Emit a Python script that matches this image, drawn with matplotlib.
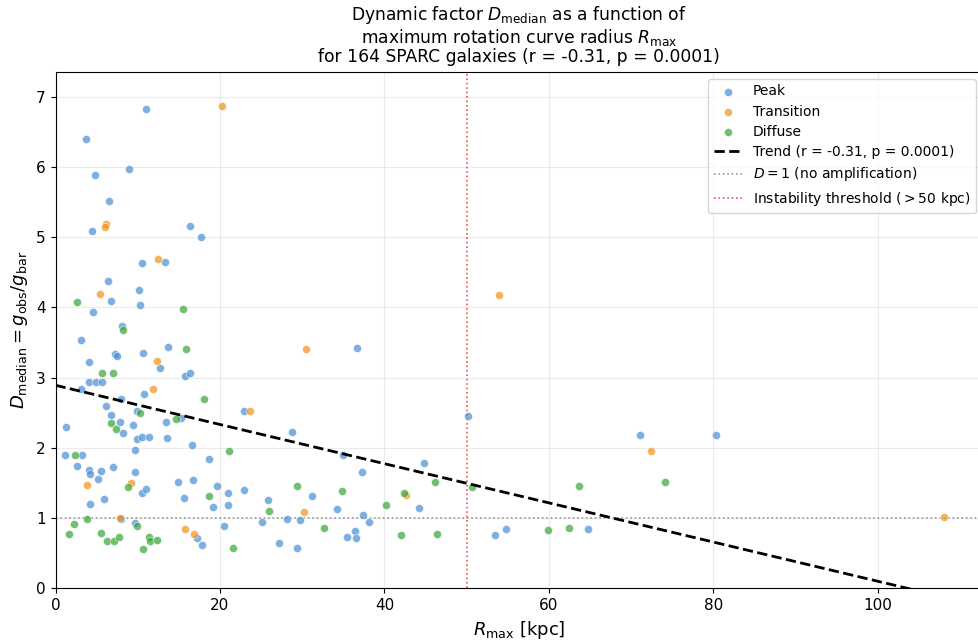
import matplotlib
matplotlib.use("Agg")
import matplotlib.pyplot as plt
import numpy as np

# Datos: R_max [kpc] y D_median por tipo de curva

peak_r = [10.97, 3.67, 4.8, 8.9, 6.47, 4.48, 16.36, 17.7, 10.52, 13.28, 6.35, 10.2,
          6.79, 10.28, 4.52, 8.09, 3.1, 7.2, 7.45, 10.68, 13.65, 12.67, 4.12, 15.75,
          16.3, 4.12, 4.97, 5.66, 3.06, 7.97, 10.73, 6.1, 9.95, 6.75, 7.81, 8.21,
          9.47, 13.44, 15.3, 22.9, 1.24, 9.88, 10.56, 11.41, 13.56, 9.71, 16.64, 18.7,
          1.12, 3.22, 2.58, 4.11, 4.16, 5.57, 5.17, 7.03, 9.63, 14.94, 16.76, 19.6,
          10.52, 11.05, 5.86, 15.63, 21.0, 22.9, 4.23, 19.16, 20.95, 7.91, 9.63, 20.5,
          17.2, 17.82, 36.68, 28.73, 34.9, 44.8, 37.3, 50.2, 31.17, 25.8, 44.26, 34.2,
          37.37, 38.1, 25.1, 28.1, 29.74, 36.4, 35.5, 36.6, 27.2, 29.4, 71.1, 80.3,
          53.4, 54.8, 64.7]
peak_d = [6.83, 6.40, 5.89, 5.97, 5.51, 5.08, 5.16, 5.00, 4.63, 4.65, 4.37, 4.24,
          4.09, 4.04, 3.94, 3.73, 3.53, 3.33, 3.31, 3.35, 3.44, 3.14, 3.22, 3.02,
          3.06, 2.94, 2.93, 2.94, 2.84, 2.69, 2.76, 2.60, 2.53, 2.46, 2.37, 2.21,
          2.32, 2.37, 2.43, 2.52, 2.29, 2.12, 2.15, 2.15, 2.14, 1.97, 2.04, 1.84,
          1.90, 1.90, 1.74, 1.68, 1.62, 1.67, 1.55, 1.73, 1.66, 1.51, 1.54, 1.46,
          1.35, 1.41, 1.27, 1.29, 1.36, 1.40, 1.20, 1.16, 1.18, 0.98, 0.93, 0.88,
          0.72, 0.61, 3.42, 2.22, 1.90, 1.78, 1.66, 2.45, 1.32, 1.26, 1.15, 1.13,
          1.04, 0.94, 0.94, 0.99, 0.97, 0.81, 0.73, 0.71, 0.64, 0.58, 2.18, 2.18,
          0.76, 0.84, 0.84]

trans_r = [20.2, 6.14, 5.99, 12.47, 5.41, 12.4, 11.82, 23.6, 3.87, 9.22, 7.88, 15.75,
           16.85, 30.4, 42.6, 30.2, 53.9, 72.4, 108.0]
trans_d = [6.86, 5.19, 5.14, 4.69, 4.19, 3.23, 2.84, 2.52, 1.47, 1.50, 1.00, 0.84,
           0.78, 3.40, 1.33, 1.09, 4.18, 1.95, 1.02]

diff_r = [2.65, 15.47, 8.17, 15.9, 5.66, 6.96, 18.07, 10.32, 6.71, 7.36, 14.62, 21.1,
          2.34, 8.78, 18.64, 3.83, 9.88, 2.29, 1.68, 5.57, 6.23, 7.12, 7.73, 11.37,
          11.53, 12.31, 10.61, 21.6, 46.2, 50.6, 29.4, 34.8, 42.4, 40.2, 26.0, 32.7,
          42.07, 46.4, 63.7, 74.07, 59.9, 62.5]
diff_d = [4.08, 3.98, 3.67, 3.41, 3.06, 3.06, 2.69, 2.50, 2.36, 2.27, 2.41, 1.96,
          1.90, 1.44, 1.32, 0.99, 0.88, 0.92, 0.77, 0.79, 0.68, 0.67, 0.73, 0.73,
          0.67, 0.69, 0.56, 0.58, 1.52, 1.44, 1.46, 1.39, 1.35, 1.18, 1.10, 0.86,
          0.76, 0.78, 1.45, 1.52, 0.83, 0.86]

# Tendencia lineal
trend_a = 2.89
trend_b = -0.0279
r_min, r_max = 0.0, 108.0

fig = plt.figure(figsize=(9.79, 6.44), dpi=100)
ax = fig.add_axes([0.0567, 0.0865, 0.9475, 0.8017])

ax.scatter(peak_r, peak_d, s=34, c="#478ed5", alpha=0.7, edgecolors="white", linewidths=0.5, label="Peak", zorder=3)
ax.scatter(trans_r, trans_d, s=34, c="#f19219", alpha=0.7, edgecolors="white", linewidths=0.5, label="Transition", zorder=3)
ax.scatter(diff_r, diff_d, s=34, c="#36a536", alpha=0.7, edgecolors="white", linewidths=0.5, label="Diffuse", zorder=3)

xs = np.linspace(r_min, r_max, 100)
ax.plot(xs, trend_a + trend_b * xs, "k--", linewidth=2, label="Trend (r = -0.31, p = 0.0001)", zorder=4)
ax.axhline(1, color="gray", linestyle=":", linewidth=1.2, alpha=0.8, label="$D = 1$ (no amplification)")
ax.axvline(50, color="red", linestyle=":", linewidth=1.2, alpha=0.7, label="Instability threshold ($>50$ kpc)")

ax.set_xlim(0, 112.8)
ax.set_ylim(0, 7.35)
ax.grid(True, alpha=0.25)
ax.tick_params(labelsize=11)

ax.set_xlabel(r"$R_{\mathrm{max}}$ [kpc]", fontsize=13, labelpad=4)
ax.set_ylabel(r"$D_{\mathrm{median}} = g_{\mathrm{obs}}/g_{\mathrm{bar}}$", fontsize=13)
ax.set_title("Dynamic factor $D_{\\mathrm{median}}$ as a function of\n"
             "maximum rotation curve radius $R_{\\mathrm{max}}$\n"
             "for 164 SPARC galaxies (r = -0.31, p = 0.0001)", fontsize=12.3, linespacing=1.05, pad=7)
ax.legend(loc="upper right", fontsize=10, labelspacing=0.45)

fig.savefig("out.png", dpi=100)
